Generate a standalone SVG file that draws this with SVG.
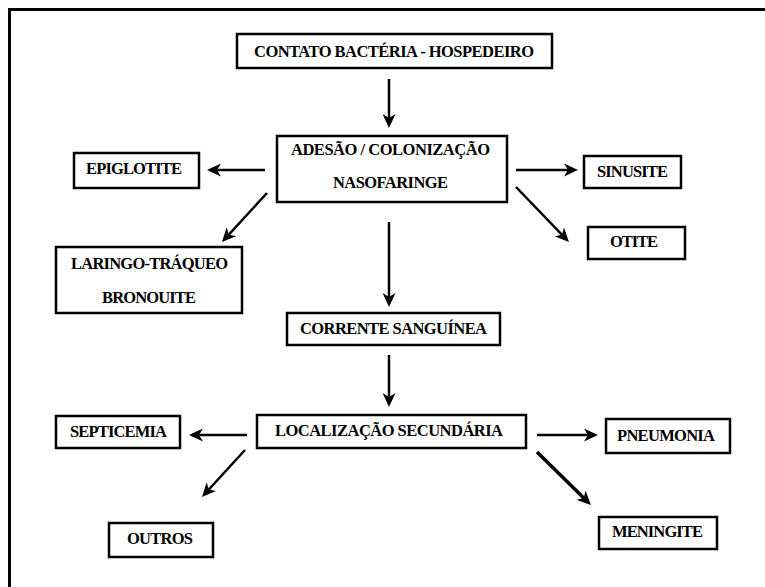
<svg xmlns="http://www.w3.org/2000/svg" width="765" height="587" viewBox="0 0 765 587">
<style>
  .box { fill: #fff; stroke: #000; stroke-width: 2.5; }
  .lbl { font-family: "Liberation Serif", "Times New Roman", serif; font-weight: bold; font-size: 16.5px; fill: #000; text-anchor: middle; }
  .arr { stroke: #000; stroke-width: 2.5; fill: none; marker-end: url(#ah); }
  .thick { stroke-width: 3.5; }
</style>
<defs>
  <marker id="ah" markerUnits="userSpaceOnUse" markerWidth="15" markerHeight="13" refX="10" refY="6.5" orient="auto">
    <path d="M0,0 L14,6.5 L0,13 L4,6.5 z" fill="#000"/>
  </marker>
</defs>
<rect width="765" height="587" fill="#fff"/>
<g id="border">
  <path d="M9.5,587 L9.5,9.5 L765,9.5" fill="none" stroke="#000" stroke-width="3"/>
</g>
<g id="connectors">
  <line class="arr" x1="389" y1="79" x2="389" y2="124"/>
  <line class="arr" x1="265" y1="170" x2="211" y2="170"/>
  <line class="arr" x1="516" y1="170" x2="574" y2="170"/>
  <line class="arr" x1="516" y1="187" x2="566.2" y2="239.1"/>
  <line class="arr" x1="267" y1="193" x2="224.7" y2="239.1"/>
  <line class="arr" x1="389" y1="222" x2="389" y2="303"/>
  <line class="arr" x1="389" y1="355" x2="389" y2="403"/>
  <line class="arr" x1="247" y1="435" x2="193" y2="435"/>
  <line class="arr" x1="245" y1="450" x2="204.7" y2="494"/>
  <line class="arr" x1="537" y1="435" x2="594" y2="435"/>
  <line class="arr thick" x1="537" y1="452" x2="588.1" y2="502.2"/>
</g>
<g id="contato">
  <rect class="box" x="237" y="34" width="315" height="34"/>
  <text class="lbl" x="394" y="57" textLength="280" lengthAdjust="spacing">CONTATO BACTÉRIA - HOSPEDEIRO</text>
</g>
<g id="adesao">
  <rect class="box" x="277" y="136" width="230" height="66"/>
  <text class="lbl" x="390.5" y="155" textLength="199" lengthAdjust="spacing">ADESÃO / COLONIZAÇÃO</text>
  <text class="lbl" x="390.5" y="188" textLength="115" lengthAdjust="spacing">NASOFARINGE</text>
</g>
<g id="epiglotite">
  <rect class="box" x="74" y="153" width="125" height="35"/>
  <text class="lbl" x="134" y="174" textLength="96" lengthAdjust="spacing">EPIGLOTITE</text>
</g>
<g id="sinusite">
  <rect class="box" x="584" y="156" width="97" height="32"/>
  <text class="lbl" x="632.5" y="177" textLength="71" lengthAdjust="spacing">SINUSITE</text>
</g>
<g id="otite">
  <rect class="box" x="588" y="227" width="97" height="32"/>
  <text class="lbl" x="634" y="247" textLength="48" lengthAdjust="spacing">OTITE</text>
</g>
<g id="laringo">
  <rect class="box" x="56" y="247" width="186" height="66"/>
  <text class="lbl" x="149.5" y="269" textLength="157" lengthAdjust="spacing">LARINGO-TRÁQUEO</text>
  <text class="lbl" x="149" y="303" textLength="94" lengthAdjust="spacing">BRONOUITE</text>
</g>
<g id="corrente">
  <rect class="box" x="287" y="313" width="213" height="32"/>
  <text class="lbl" x="393.5" y="334" textLength="187" lengthAdjust="spacing">CORRENTE SANGUÍNEA</text>
</g>
<g id="localizacao">
  <rect class="box" x="257" y="415" width="269" height="33"/>
  <text class="lbl" x="389" y="436" textLength="228" lengthAdjust="spacing">LOCALIZAÇÃO SECUNDÁRIA</text>
</g>
<g id="septicemia">
  <rect class="box" x="56" y="416" width="124" height="32"/>
  <text class="lbl" x="118.5" y="437" textLength="97" lengthAdjust="spacing">SEPTICEMIA</text>
</g>
<g id="outros">
  <rect class="box" x="109" y="523" width="104" height="34"/>
  <text class="lbl" x="160" y="544" textLength="66" lengthAdjust="spacing">OUTROS</text>
</g>
<g id="pneumonia">
  <rect class="box" x="606" y="419" width="124" height="34"/>
  <text class="lbl" x="666" y="441" textLength="98" lengthAdjust="spacing">PNEUMONIA</text>
</g>
<g id="meningite">
  <rect class="box" x="599" y="517" width="118" height="32"/>
  <text class="lbl" x="657.5" y="537" textLength="91" lengthAdjust="spacing">MENINGITE</text>
</g>
</svg>
